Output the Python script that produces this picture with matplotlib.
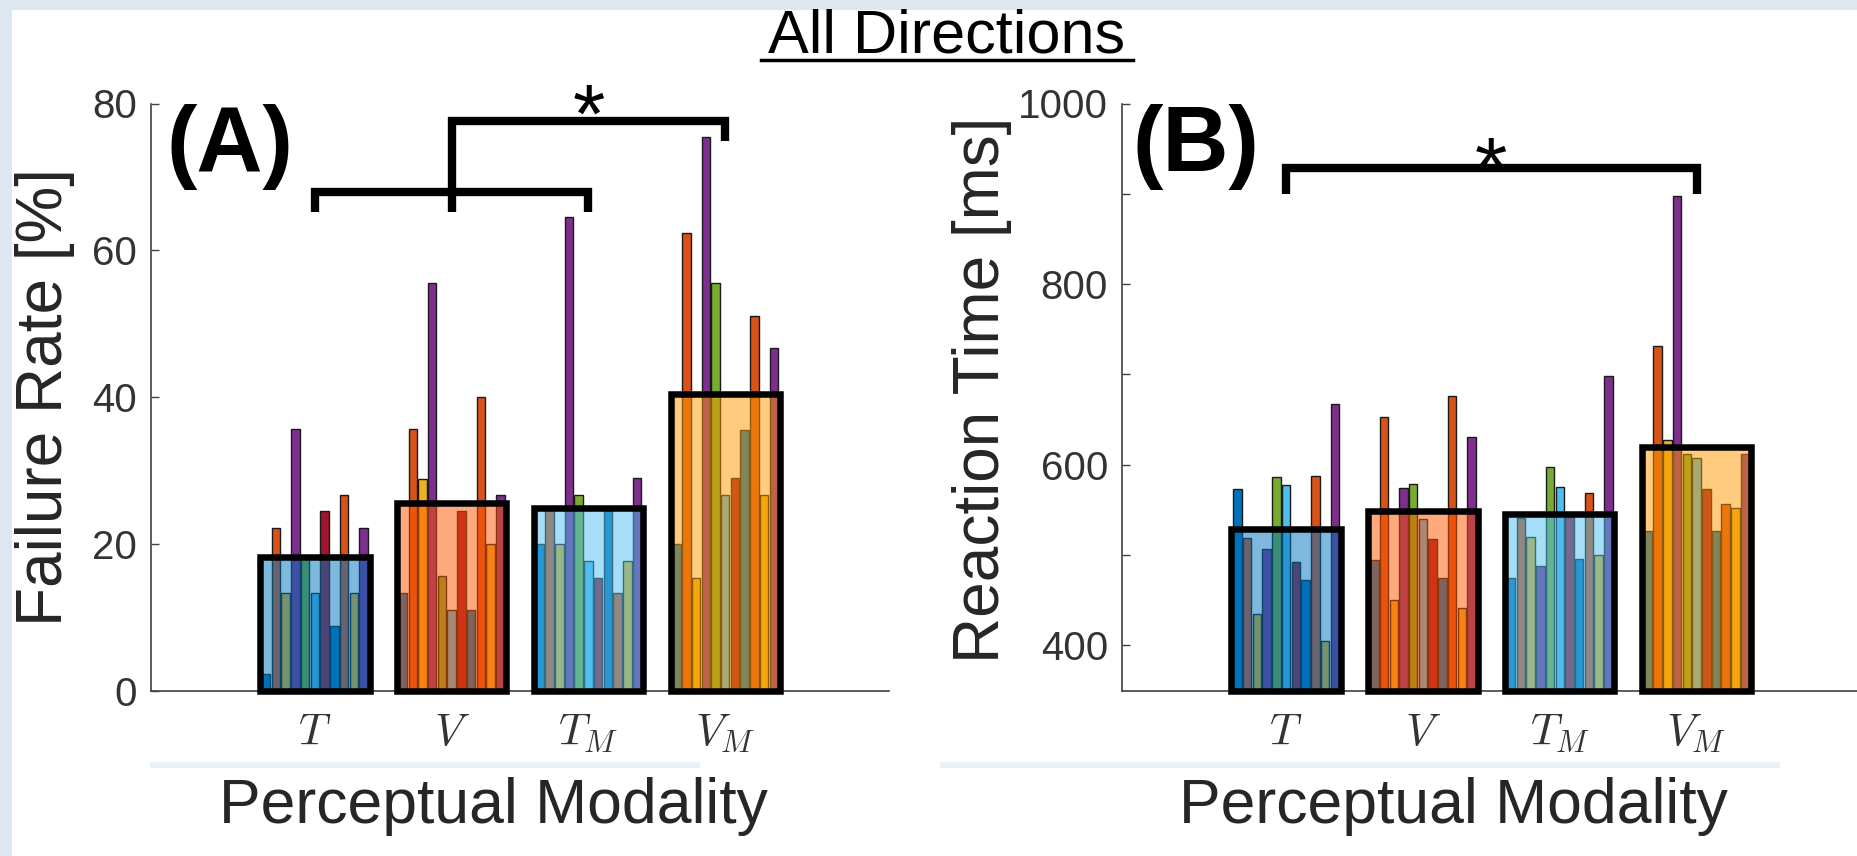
import numpy as np
import matplotlib
matplotlib.use("Agg")
import matplotlib.pyplot as plt
from matplotlib import font_manager
from matplotlib.colors import to_rgba
from matplotlib.lines import Line2D
from matplotlib.patches import Rectangle

plt.rcParams["font.family"] = ["Liberation Sans", "DejaVu Sans"]
plt.rcParams["mathtext.fontset"] = "cm"

# categories / tick labels
groups = ["$T$", "$V$", "$T_M$", "$V_M$"]

# (A) failure rate [%] - group means and 11 subjects per modality
fail_mean = [18.2, 25.6, 24.9, 40.4]
fail_T = [2.2, 22.2, 13.3, 35.6, 18.0, 13.3, 24.4, 8.8, 26.6, 13.3, 22.1]
fail_V = [13.3, 35.6, 28.8, 55.5, 15.6, 11.0, 24.4, 11.0, 40.0, 19.9, 26.6]
fail_TM = [19.9, 24.6, 19.9, 64.5, 26.6, 17.7, 15.4, 24.6, 13.3, 17.7, 29.0]
fail_VM = [19.9, 62.3, 15.4, 75.5, 55.6, 26.6, 28.9, 35.5, 51.1, 26.6, 46.7]

# (B) reaction time [ms]
rt_mean = [529.0, 548.5, 545.7, 620.0]
rt_T = [573.6, 519.3, 435.1, 506.4, 586.5, 577.3, 492.3, 472.0, 587.6, 404.8, 667.0]
rt_V = [494.2, 652.3, 450.2, 573.9, 578.4, 539.6, 517.4, 475.0, 675.6, 441.8, 631.0]
rt_TM = [475.0, 541.0, 520.0, 487.9, 598.0, 575.8, 542.0, 495.3, 569.2, 500.0, 698.6]
rt_VM = [526.8, 732.0, 627.0, 897.6, 612.2, 607.3, 573.6, 526.8, 556.8, 552.2, 612.2]

subj_colors = ["#0072BD", "#D95319", "#EDB120", "#7E2F8E", "#77AC30", "#4DBEEE",
               "#A2142F", "#0072BD", "#D95319", "#EDB120", "#7E2F8E"]
box_colors = ["#0072BD", "#FF5500", "#4DBEEE", "#FF9A00"]

# the x labels in the slide look condensed -> use the narrow face if present
installed = {f.name for f in font_manager.fontManager.ttflist}
if "Liberation Sans Narrow" in installed:
    xlab_font, xlab_size = "Liberation Sans Narrow", 56
else:
    xlab_font, xlab_size = "Liberation Sans", 45

W, H = 1857, 856
fig = plt.figure(figsize=(W / 100, H / 100), dpi=100, facecolor="#dce7f1")
fig.patches.append(Rectangle((12 / W, 0), 1, 1 - 10 / H, transform=fig.transFigure,
                             facecolor="white", edgecolor="none", zorder=-5))
# faint slide streaks under the tick labels
for x0, x1 in [(150, 700), (940, 1780)]:
    fig.patches.append(Rectangle((x0 / W, 1 - 768 / H), (x1 - x0) / W, 6 / H,
                                 transform=fig.transFigure, facecolor="#dbe6f1",
                                 edgecolor="none", alpha=0.6, zorder=-4))

ax_b, ax_h = 1 - 690.5 / H, (690.5 - 103.5) / H
axA = fig.add_axes([150.7 / W, ax_b, 738.7 / W, ax_h])
axB = fig.add_axes([1122 / W, ax_b, 738.7 / W, ax_h])

offsets = (np.arange(11) - 5) * 0.0711
axis_col = "#404040"


def draw(ax, subj, means, base):
    for g in range(4):
        vals = np.array(subj[g])
        ax.bar(g + 1 + offsets, vals - base, bottom=base, width=0.062,
               color=subj_colors, edgecolor="#1a1a1a", linewidth=1,
               zorder=2, clip_on=False)
        ax.bar(g + 1, means[g] - base, bottom=base, width=0.8,
               facecolor=to_rgba(box_colors[g], 0.5), edgecolor="black",
               linewidth=4.7, zorder=3, clip_on=False)
    ax.set_xlim(-0.2, 5.2)
    ax.set_xticks([1, 2, 3, 4])
    ax.set_xticklabels(groups, fontsize=32, color="#333333")
    ax.set_facecolor("none")
    for s in ["top", "right"]:
        ax.spines[s].set_visible(False)
    for s in ["left", "bottom"]:
        ax.spines[s].set_color(axis_col)
        ax.spines[s].set_linewidth(1.2)
    ax.tick_params(axis="both", direction="in", length=6, width=1,
                   color=axis_col, labelcolor="#333333")
    ax.tick_params(axis="y", labelsize=29, pad=10)
    ax.tick_params(axis="x", pad=16)


draw(axA, [fail_T, fail_V, fail_TM, fail_VM], fail_mean, 0)
axA.set_ylim(0, 80)
axA.set_yticks([0, 20, 40, 60, 80])

draw(axB, [rt_T, rt_V, rt_TM, rt_VM], rt_mean, 350)
axB.set_ylim(350, 1000)
axB.set_yticks([400, 500, 600, 700, 800, 900, 1000])
axB.set_yticklabels(["400", "", "600", "", "800", "", "1000"])

# significance brackets
br = dict(color="black", linewidth=6, solid_joinstyle="miter",
          solid_capstyle="butt", clip_on=False, zorder=5)
axA.plot([1, 1, 3, 3], [65.25, 67.97, 67.97, 65.25], **br)
axA.plot([2, 2, 4, 4], [65.25, 77.55, 77.55, 74.9], **br)
axA.text(3, 77.6, "*", fontsize=60, ha="center", va="center", clip_on=False)
axB.plot([1, 1, 4, 4], [899.7, 928.5, 928.5, 899.7], **br)
axB.text(2.5, 922.0, "*", fontsize=60, ha="center", va="center", clip_on=False)

# panel letters
fig.text(230 / W, 1 - 146.5 / H, "(A)", fontsize=66, fontweight="bold",
         ha="center", va="center")
fig.text(1196 / W, 1 - 146.5 / H, "(B)", fontsize=66, fontweight="bold",
         ha="center", va="center")

# axis labels
fig.text(45 / W, 1 - 397 / H, "Failure Rate [%]", fontsize=46, rotation=90,
         ha="center", va="center", color="#262626")
fig.text(982 / W, 1 - 390 / H, "Reaction Time [ms]", fontsize=46, rotation=90,
         ha="center", va="center", color="#262626")
for xc in [493, 1453]:
    fig.text(xc / W, 1 - 806 / H, "Perceptual Modality", fontsize=xlab_size,
             family=[xlab_font, "DejaVu Sans"], ha="center", va="center",
             color="#262626")

# underlined title
fig.text(947 / W, 1 - 37 / H, "All Directions", fontsize=44,
         ha="center", va="center", color="black")
fig.add_artist(Line2D([761 / W, 1133 / W], [1 - 60 / H, 1 - 60 / H],
                      transform=fig.transFigure, color="black", linewidth=2.5))

fig.savefig("out.png", dpi=100, facecolor=fig.get_facecolor())
